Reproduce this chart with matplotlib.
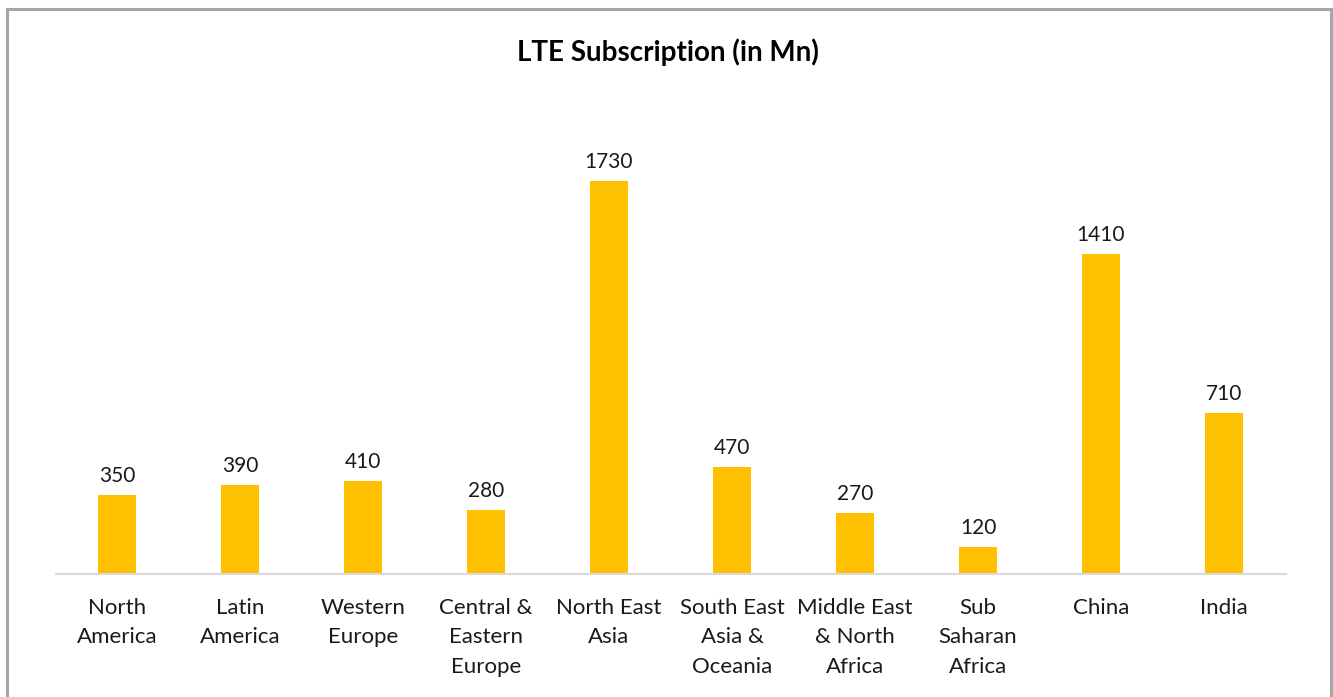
import matplotlib
matplotlib.use("Agg")
import matplotlib.pyplot as plt
from matplotlib.patches import Rectangle

categories = ["North\nAmerica", "Latin\nAmerica", "Western\nEurope", "Central &\nEastern\nEurope",
              "North East\nAsia", "South East\nAsia &\nOceania", "Middle East\n& North\nAfrica",
              "Sub\nSaharan\nAfrica", "China", "India"]
values = [350, 390, 410, 280, 1730, 470, 270, 120, 1410, 710]
title = "LTE Subscription (in Mn)"

plt.rcParams['font.family'] = ['Lato', 'DejaVu Sans']
W, H = 1333, 697
fig = plt.figure(figsize=(W / 100, H / 100), dpi=100)
fig.patch.set_facecolor("white")

# outer border
fig.patches.append(Rectangle((6.5 / W, -0.05), (1331 - 6.5) / W, (H - 9) / H + 0.05,
                             transform=fig.transFigure, fill=False,
                             edgecolor="#a6a6a6", linewidth=2.2))

ax = fig.add_axes([55.5 / W, (H - 574) / H, 1230 / W, 454 / H])
x = range(len(values))
ax.bar(x, values, width=0.31, color="#FFC000", zorder=2)
ax.set_xlim(-0.5, len(values) - 0.5)
ax.set_ylim(0, 2000)
for s in ["top", "right", "left"]:
    ax.spines[s].set_visible(False)
ax.spines["bottom"].set_color("#d9d9d9")
ax.spines["bottom"].set_linewidth(1.5)
ax.set_yticks([])
ax.set_xticks(list(x))
ax.set_xticklabels(categories, fontsize=16, color="#1a1a1a", linespacing=1.6, va="top")
ax.tick_params(axis="x", length=0, pad=17)
for xi, v in zip(x, values):
    ax.annotate(str(v), (xi, v), xytext=(0, 6.5), textcoords="offset points",
                ha="center", va="bottom", fontsize=15, color="#1a1a1a")

fig.text(668 / W, 1 - 52 / H, title, ha="center", va="center", fontsize=20,
         fontweight="bold", color="#000000")

fig.savefig("out.png", dpi=100)
